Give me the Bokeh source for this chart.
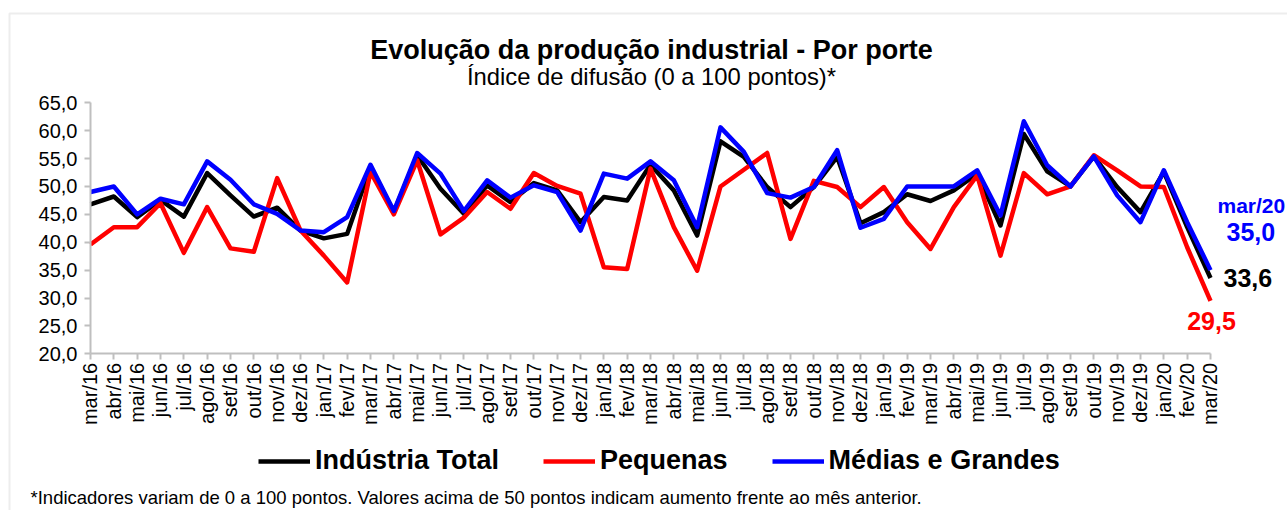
import math
from bokeh.plotting import figure
from bokeh.models import Range1d, FixedTicker, Label, Legend, LegendItem, BoxAnnotation, ColumnDataSource, LinearAxis
from bokeh.embed import file_html
from bokeh.resources import INLINE

months = ["mar/16", "abr/16", "mai/16", "jun/16", "jul/16", "ago/16", "set/16", "out/16", "nov/16", "dez/16",
          "jan/17", "fev/17", "mar/17", "abr/17", "mai/17", "jun/17", "jul/17", "ago/17", "set/17", "out/17",
          "nov/17", "dez/17", "jan/18", "fev/18", "mar/18", "abr/18", "mai/18", "jun/18", "jul/18", "ago/18",
          "set/18", "out/18", "nov/18", "dez/18", "jan/19", "fev/19", "mar/19", "abr/19", "mai/19", "jun/19",
          "jul/19", "ago/19", "set/19", "out/19", "nov/19", "dez/19", "jan/20", "fev/20", "mar/20"]

industria_total = [46.8, 48.2, 44.5, 47.6, 44.6, 52.4, 48.4, 44.6, 46.2, 42.1,
                   40.7, 41.5, 53.5, 45.4, 55.6, 49.6, 45.1, 50.2, 47.2, 50.6,
                   49.3, 43.6, 48.1, 47.5, 53.9, 49.3, 41.2, 58.1, 55.3, 49.9,
                   46.3, 49.9, 55.3, 43.4, 45.4, 48.6, 47.4, 49.3, 52.3, 43.0,
                   59.4, 52.7, 50.0, 55.4, 49.9, 45.4, 52.6, 42.7, 33.6]

pequenas = [39.6, 42.7, 42.7, 47.0, 38.1, 46.3, 38.9, 38.3, 51.5, 42.1,
            37.6, 32.8, 52.6, 45.0, 54.7, 41.4, 44.4, 49.0, 46.0, 52.4,
            50.1, 48.7, 35.5, 35.2, 53.2, 42.7, 34.9, 50.0, 53.0, 56.0,
            40.6, 51.0, 49.9, 46.3, 49.9, 43.6, 38.8, 46.3, 52.0, 37.6,
            52.4, 48.6, 50.0, 55.6, 52.9, 50.0, 49.9, 39.1, 29.5]

medias_grandes = [49.0, 50.0, 45.0, 47.8, 46.8, 54.5, 51.2, 46.8, 45.1, 42.1,
                  41.8, 44.5, 53.9, 45.6, 56.0, 52.3, 45.6, 51.1, 48.0, 50.2,
                  49.0, 42.1, 52.3, 51.4, 54.5, 51.1, 42.7, 60.6, 56.2, 48.8,
                  48.0, 49.9, 56.5, 42.6, 44.2, 50.0, 50.0, 50.0, 52.9, 44.8,
                  61.7, 53.8, 50.0, 55.4, 48.4, 43.6, 52.9, 43.6, 35.0]

series_names = ["Indústria Total", "Pequenas", "Médias e Grandes"]
y_ticks = [20, 25, 30, 35, 40, 45, 50, 55, 60, 65]

title_text = "Evolução da produção industrial - Por porte"
subtitle_text = "Índice de difusão (0 a 100 pontos)*"
footnote_text = ("*Indicadores variam de 0 a 100 pontos. Valores acima de 50 pontos "
                 "indicam aumento frente ao mês anterior.")


def fmt(v):
    return f"{v:.1f}".replace(".", ",")


FONT = "Liberation Sans"
AXIS_GRAY = "#BFBFBF"

# canvas geometry (the plot frame fills the whole canvas; axes are pinned inside it)
W, H = 1287, 510
X0_PX, X1_PX = 90.0, 1210.0        # canvas x of first / last month
YT_PX, YB_PX = 102.3, 353.3        # canvas y of top / bottom y tick
n = len(months)
xs = list(range(n))
x_per_px = (n - 1) / (X1_PX - X0_PX)
y_per_px = (y_ticks[-1] - y_ticks[0]) / (YB_PX - YT_PX)
x_start = 0 - X0_PX * x_per_px
x_end = (n - 1) + (W - X1_PX) * x_per_px
y_end = y_ticks[-1] + YT_PX * y_per_px
y_start = y_ticks[0] - (H - YB_PX) * y_per_px


def sy(py):
    """canvas y (from top) -> screen units (from bottom)"""
    return H - py


source = ColumnDataSource(data=dict(x=xs, total=industria_total, peq=pequenas, mg=medias_grandes))

p = figure(width=W, height=H,
           x_range=Range1d(x_start, x_end), y_range=Range1d(y_start, y_end),
           output_backend="svg", toolbar_location=None,
           x_axis_location=None, y_axis_location=None,
           min_border_left=0, min_border_right=0, min_border_top=0, min_border_bottom=0)
p.xgrid.grid_line_color = None
p.ygrid.grid_line_color = None
p.outline_line_color = None
p.background_fill_color = "white"
p.border_fill_color = "white"

# x axis pinned at y = 20
xaxis = LinearAxis(fixed_location=y_ticks[0], bounds=(0, n - 1))
xaxis.ticker = FixedTicker(ticks=xs)
xaxis.major_label_overrides = {i: m for i, m in enumerate(months)}
xaxis.major_label_orientation = math.pi / 2
xaxis.major_label_text_font = FONT
xaxis.major_label_text_font_size = "20px"
xaxis.major_label_text_color = "black"
xaxis.major_label_standoff = 3
xaxis.axis_line_color = AXIS_GRAY
xaxis.axis_line_width = 2
xaxis.major_tick_line_color = AXIS_GRAY
xaxis.major_tick_line_width = 2
xaxis.major_tick_in = 0
xaxis.major_tick_out = 6
xaxis.minor_tick_line_color = None
p.add_layout(xaxis, "below")

# y axis pinned at x = 0
yaxis = LinearAxis(fixed_location=0, bounds=(y_ticks[0], y_ticks[-1]))
yaxis.ticker = FixedTicker(ticks=y_ticks)
yaxis.major_label_overrides = {t: fmt(t) for t in y_ticks}
yaxis.major_label_text_font = FONT
yaxis.major_label_text_font_size = "20px"
yaxis.major_label_text_color = "black"
yaxis.major_label_standoff = 7
yaxis.axis_line_color = AXIS_GRAY
yaxis.axis_line_width = 2
yaxis.major_tick_line_color = AXIS_GRAY
yaxis.major_tick_line_width = 2
yaxis.major_tick_in = 0
yaxis.major_tick_out = 6
yaxis.minor_tick_line_color = None
p.add_layout(yaxis, "left")

r_total = p.line("x", "total", source=source, line_color="black", line_width=4.5, line_join="round")
r_peq = p.line("x", "peq", source=source, line_color="#FF0000", line_width=4.5, line_join="round")
r_mg = p.line("x", "mg", source=source, line_color="#0000FF", line_width=4.5, line_join="round")

legend = Legend(items=[LegendItem(label=series_names[0], renderers=[r_total]),
                       LegendItem(label=series_names[1], renderers=[r_peq]),
                       LegendItem(label=series_names[2], renderers=[r_mg])],
                orientation="horizontal", location=(258, sy(476)),
                label_text_font=FONT, label_text_font_size="27px", label_text_font_style="bold",
                label_text_color="black",
                glyph_width=52, glyph_height=20, label_standoff=5, spacing=44,
                padding=0, margin=0, border_line_color=None, background_fill_alpha=0)
p.add_layout(legend)

# titles
p.add_layout(Label(x=651, y=sy(49), x_units="screen", y_units="screen", text=title_text,
                   text_align="center", text_baseline="middle", text_font=FONT,
                   text_font_size="27px", text_font_style="bold", text_color="black"))
p.add_layout(Label(x=651, y=sy(76), x_units="screen", y_units="screen", text=subtitle_text,
                   text_align="center", text_baseline="middle", text_font=FONT,
                   text_font_size="23.8px", text_color="black"))
p.add_layout(Label(x=30, y=sy(497), x_units="screen", y_units="screen", text=footnote_text,
                   text_align="left", text_baseline="middle", text_font=FONT,
                   text_font_size="18.5px", text_color="black"))

# end-point annotations
last = n - 1
p.add_layout(Label(x=last, y=medias_grandes[-1], text=months[-1], x_offset=7, y_offset=65,
                   text_align="left", text_baseline="middle", text_font=FONT,
                   text_font_size="21px", text_font_style="bold", text_color="#0000FF"))
p.add_layout(Label(x=last, y=medias_grandes[-1], text=fmt(medias_grandes[-1]), x_offset=16, y_offset=38,
                   text_align="left", text_baseline="middle", text_font=FONT,
                   text_font_size="25px", text_font_style="bold", text_color="#0000FF"))
p.add_layout(Label(x=last, y=industria_total[-1], text=fmt(industria_total[-1]), x_offset=13, y_offset=0,
                   text_align="left", text_baseline="middle", text_font=FONT,
                   text_font_size="25px", text_font_style="bold", text_color="black"))
p.add_layout(Label(x=last, y=pequenas[-1], text=fmt(pequenas[-1]), x_offset=1, y_offset=-20,
                   text_align="center", text_baseline="middle", text_font=FONT,
                   text_font_size="25px", text_font_style="bold", text_color="#FF0000"))

# chart-area border (top and left edges visible)
p.add_layout(BoxAnnotation(left=9, right=W + 50, top=sy(13), bottom=-50,
                           left_units="screen", right_units="screen", top_units="screen", bottom_units="screen",
                           fill_alpha=0, line_color="#C4C4C4", line_width=2))

open("out.html", "w").write(file_html(p, INLINE))
